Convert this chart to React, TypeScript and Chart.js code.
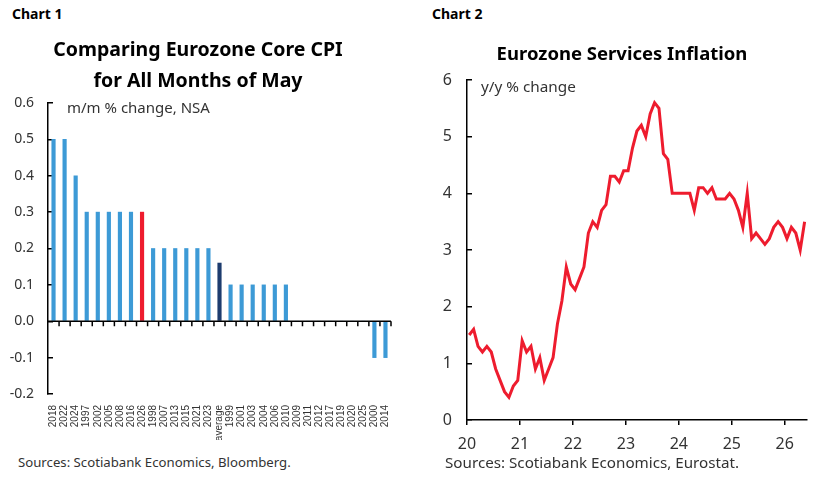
import React, { useEffect, useRef } from "react";
import { Chart, registerables } from "chart.js";

Chart.register(...registerables);

// ---------- Chart 1 data ----------
const mayYears = [
  "2018", "2022", "2024", "1997", "2002", "2005", "2008", "2016", "2026",
  "1998", "2007", "2013", "2015", "2021", "2023", "average",
  "1999", "2001", "2003", "2004", "2006", "2010",
  "2009", "2011", "2012", "2017", "2019", "2020", "2025",
  "2000", "2014",
];
const mayValues = [
  0.5, 0.5, 0.4, 0.3, 0.3, 0.3, 0.3, 0.3, 0.3,
  0.2, 0.2, 0.2, 0.2, 0.2, 0.2, 0.16,
  0.1, 0.1, 0.1, 0.1, 0.1, 0.1,
  0, 0, 0, 0, 0, 0, 0,
  -0.1, -0.1,
];
const highlightYear = "2026";
const averageLabel = "average";
const yMin1 = -0.2;
const yMax1 = 0.6;
const yStep1 = 0.1;

// ---------- Chart 2 data (monthly, from Jan 2020) ----------
const servicesStartYear = 20; // "20" = 2020
const servicesValues = [
  // 2020
  1.5, 1.6, 1.3, 1.2, 1.3, 1.2, 0.9, 0.7, 0.5, 0.4, 0.6, 0.7,
  // 2021
  1.4, 1.2, 1.3, 0.9, 1.1, 0.7, 0.9, 1.1, 1.7, 2.1, 2.7, 2.4,
  // 2022
  2.3, 2.5, 2.7, 3.3, 3.5, 3.4, 3.7, 3.8, 4.3, 4.3, 4.2, 4.4,
  // 2023
  4.4, 4.8, 5.1, 5.2, 5.0, 5.4, 5.6, 5.5, 4.7, 4.6, 4.0, 4.0,
  // 2024
  4.0, 4.0, 4.0, 3.7, 4.1, 4.1, 4.0, 4.1, 3.9, 3.9, 3.9, 4.0,
  // 2025
  3.9, 3.7, 3.4, 4.0, 3.2, 3.3, 3.2, 3.1, 3.2, 3.4, 3.5, 3.4,
  // 2026
  3.2, 3.4, 3.3, 3.0, 3.5,
];
const xTickValues2 = [20, 21, 22, 23, 24, 25, 26];
const xMin2 = 20;
const xMax2 = 26.42;
const yMin2 = 0;
const yMax2 = 6;

const FONT = "'Noto Sans', sans-serif";
const BLUE = "#3d9ad6";
const RED = "#ee1c2e";
const NAVY = "#1d3c6e";
const TEXT = "#333333";

const zeroAxisPlugin = {
  id: "zeroAxis",
  afterDatasetsDraw(chart: any) {
    const { ctx, chartArea, scales } = chart;
    const y0 = scales.y.getPixelForValue(0);
    const n = chart.data.labels.length;
    ctx.save();
    ctx.strokeStyle = "#000";
    ctx.lineWidth = 1.5;
    ctx.beginPath();
    ctx.moveTo(chartArea.left, y0);
    ctx.lineTo(chartArea.right, y0);
    for (let i = 0; i < n; i++) {
      const x = scales.x.getPixelForValue(i + 0.5);
      ctx.moveTo(x, y0);
      ctx.lineTo(x, y0 + 5);
    }
    ctx.stroke();
    ctx.restore();
  },
};

function BarChart() {
  const ref = useRef<HTMLCanvasElement>(null);
  useEffect(() => {
    const colors = mayYears.map((y) =>
      y === highlightYear ? RED : y === averageLabel ? NAVY : BLUE
    );
    const chart = new Chart(ref.current!, {
      type: "bar",
      data: {
        labels: mayYears,
        datasets: [
          {
            data: mayValues,
            backgroundColor: colors,
            borderWidth: 0,
            barThickness: 3.5,
          },
        ],
      },
      plugins: [zeroAxisPlugin],
      options: {
        responsive: false,
        animation: false,
        devicePixelRatio: 1,
        layout: { padding: { top: 13, right: 19, left: 0, bottom: 0 } },
        plugins: { legend: { display: false }, tooltip: { enabled: false } },
        scales: {
          x: {
            type: "category",
            offset: true,
            grid: { display: false },
            border: { display: false },
            ticks: {
              autoSkip: false,
              maxRotation: 90,
              minRotation: 90,
              padding: 3,
              color: TEXT,
              font: { family: "'Liberation Sans', Arial, sans-serif", size: 10 },
            },
            afterFit: (s: any) => {
              s.height = 46;
            },
          },
          y: {
            min: yMin1,
            max: yMax1,
            border: { display: true, color: "#000", width: 1.5 },
            grid: {
              drawOnChartArea: false,
              drawTicks: true,
              tickLength: -5,
              color: "#000",
              lineWidth: 1.5,
            },
            ticks: {
              stepSize: yStep1,
              padding: 19,
              color: TEXT,
              font: { family: FONT, size: 14 },
              callback: (v: any) => Number(v).toFixed(1),
            },
            afterFit: (s: any) => {
              s.width = 48;
              s.paddingTop = 0;
              s.paddingBottom = 0;
            },
          },
        },
      },
    });
    return () => chart.destroy();
  }, []);
  return <canvas ref={ref} width={410} height={350} />;
}

function LineChart() {
  const ref = useRef<HTMLCanvasElement>(null);
  useEffect(() => {
    const points = servicesValues.map((v, i) => ({
      x: servicesStartYear + (i + 0.5) / 12,
      y: v,
    }));
    const chart = new Chart(ref.current!, {
      type: "line",
      data: {
        datasets: [
          {
            data: points,
            borderColor: RED,
            borderWidth: 3,
            pointRadius: 0,
            tension: 0,
            fill: false,
          },
        ],
      },
      options: {
        responsive: false,
        animation: false,
        devicePixelRatio: 1,
        layout: { padding: { top: 20, right: 21, left: 0, bottom: 0 } },
        plugins: { legend: { display: false }, tooltip: { enabled: false } },
        scales: {
          x: {
            type: "linear",
            min: xMin2,
            max: xMax2,
            border: { display: true, color: "#000", width: 1.5 },
            grid: {
              drawOnChartArea: false,
              drawTicks: true,
              tickLength: 5,
              color: "#000",
              lineWidth: 1.5,
            },
            ticks: {
              padding: 10,
              color: TEXT,
              font: { family: FONT, size: 16 },
              callback: (v: any) => String(Math.round(Number(v))),
            },
            afterBuildTicks: (s: any) => {
              s.ticks = xTickValues2.map((v) => ({ value: v }));
            },
            afterFit: (s: any) => {
              s.height = 40;
              s.paddingLeft = 0;
              s.paddingRight = 0;
            },
          },
          y: {
            min: yMin2,
            max: yMax2,
            border: { display: true, color: "#000", width: 1.5 },
            grid: {
              drawOnChartArea: false,
              drawTicks: true,
              tickLength: -5,
              color: "#000",
              lineWidth: 1.5,
            },
            ticks: {
              stepSize: 1,
              padding: 20,
              color: TEXT,
              font: { family: FONT, size: 16 },
            },
            afterFit: (s: any) => {
              s.width = 53;
              s.paddingTop = 0;
              s.paddingBottom = 0;
            },
          },
        },
      },
    });
    return () => chart.destroy();
  }, []);
  return <canvas ref={ref} width={414} height={400} />;
}

const abs = (o: React.CSSProperties): React.CSSProperties => ({
  position: "absolute",
  whiteSpace: "nowrap",
  fontFamily: FONT,
  color: "#000",
  lineHeight: 1,
  margin: 0,
  ...o,
});

export default function App() {
  return (
    <div
      style={{
        position: "absolute",
        left: 0,
        top: 0,
        width: 828,
        height: 483,
        background: "#fff",
        overflow: "hidden",
      }}
    >
      <div style={{ position: "absolute", left: 0, top: 90 }}>
        <BarChart />
      </div>
      <div style={{ position: "absolute", left: 414, top: 60 }}>
        <LineChart />
      </div>

      <div style={abs({ left: 12, top: 7, fontSize: 14, fontWeight: 700 })}>Chart 1</div>
      <div style={abs({ left: 432, top: 7, fontSize: 14, fontWeight: 700 })}>Chart 2</div>

      <div
        style={abs({
          left: 0,
          width: 396,
          top: 33,
          fontSize: 19.5,
          fontWeight: 700,
          textAlign: "center",
          lineHeight: "31px",
        })}
      >
        Comparing Eurozone Core CPI
        <br />
        for All Months of May
      </div>
      <div
        style={abs({
          left: 422,
          width: 400,
          top: 37,
          fontSize: 18.5,
          fontWeight: 700,
          textAlign: "center",
          lineHeight: "31px",
        })}
      >
        Eurozone Services Inflation
      </div>

      <div style={abs({ left: 67, top: 100, fontSize: 15, color: TEXT })}>m/m % change, NSA</div>
      <div style={abs({ left: 481, top: 79, fontSize: 15.3, color: TEXT })}>y/y % change</div>

      <div style={abs({ left: 18, top: 456, fontSize: 13.2, color: TEXT })}>
        Sources: Scotiabank Economics, Bloomberg.
      </div>
      <div style={abs({ left: 445, top: 455, fontSize: 15.2, color: TEXT })}>
        Sources: Scotiabank Economics, Eurostat.
      </div>
    </div>
  );
}
